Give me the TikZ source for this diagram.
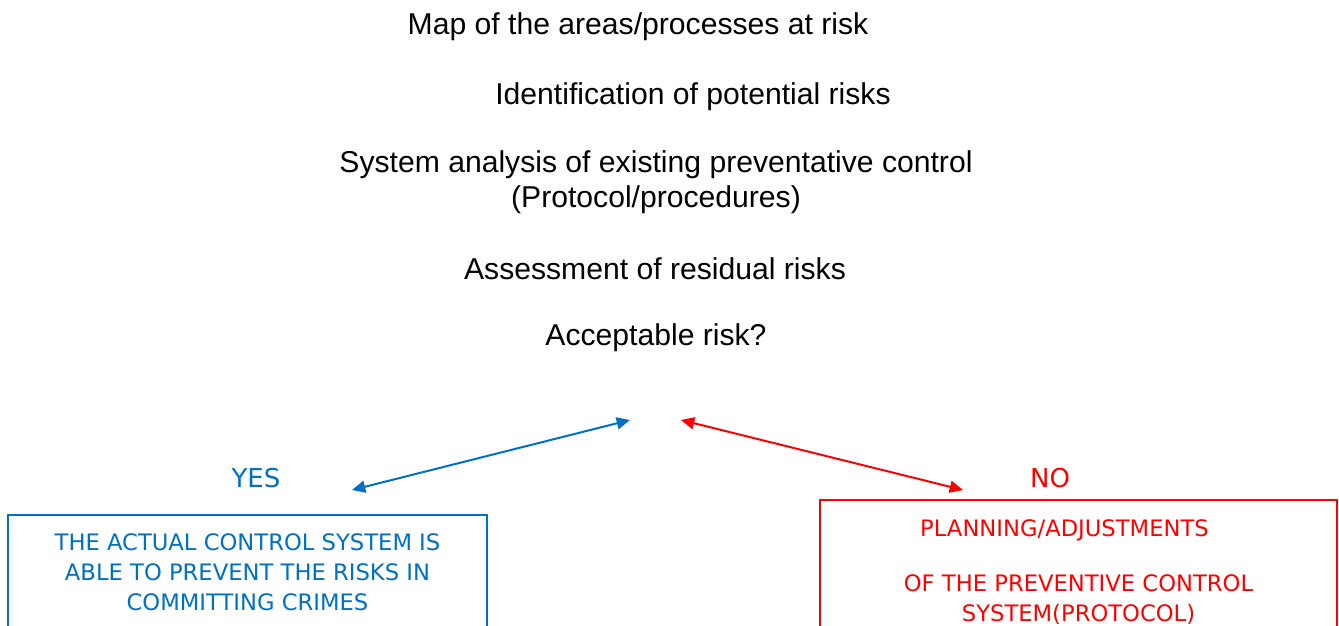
\documentclass[tikz,border=0pt]{standalone}
\usepackage{fontspec}
\setmainfont{Liberation Sans}
\newfontfamily\boxfont{DejaVu Sans}
\usetikzlibrary{arrows.meta,positioning}
\definecolor{yesblue}{HTML}{0070C0}
\definecolor{nored}{HTML}{FF0000}

\begin{document}
\begin{tikzpicture}[x=0.75pt,y=-0.75pt,
  stage/.style={font=\fontsize{22.6}{26}\selectfont, align=center, inner sep=0pt},
  answer/.style={font=\boxfont\fontsize{19.5}{23}\selectfont, inner sep=0pt},
  outcome/.style={draw, line width=1.5pt, align=center, inner sep=0pt,
    font=\boxfont\fontsize{17}{22.5}\selectfont},
  link/.style={line width=1.5pt,
    {Triangle[length=10pt,width=9pt]}-{Triangle[length=10pt,width=9pt]}}]
  \useasboundingbox (0,0) rectangle (1339,625);
  % steps of the risk analysis
  \node[stage] (map) at (638,27) {Map of the areas/processes at risk};
  \node[stage] (ident) at (693,97) {Identification of potential risks};
  \node[stage] (analysis) at (656,182) {System analysis of existing preventative control\\(Protocol/procedures)};
  \node[stage] (assess) at (655,269) {Assessment of residual risks};
  \node[stage] (accept) at (656,338) {Acceptable risk?};
  % answers
  \node[answer, text=yesblue] (yes) at (256,478) {YES};
  \node[answer, text=nored] (no) at (1050,478) {NO};
  \coordinate (accL) at (630,420);
  \coordinate (accR) at (681,420);
  \coordinate (yesend) at (352,490);
  \coordinate (noend) at (963,490);
  \draw[link, yesblue] (yesend) -- (accL);
  \draw[link, nored] (accR) -- (noend);
  % outcome boxes
  \node[outcome, draw=yesblue, text=yesblue, minimum width=359.25pt, minimum height=85.5pt]
    (yesbox) at (247.5,572) {THE ACTUAL CONTROL SYSTEM IS\\ABLE TO PREVENT THE RISKS IN\\COMMITTING CRIMES};
  \node[outcome, draw=nored, text=nored, minimum width=387.75pt, minimum height=103.5pt]
    (nobox) at (1078.5,569) {};
  \node[outcome, draw=none, text=nored] (notext) at (1078.5,572)
    {PLANNING/ADJUSTMENTS\hspace*{21pt}\\[18.75pt]OF THE PREVENTIVE CONTROL\\SYSTEM(PROTOCOL)};
\end{tikzpicture}
\end{document}
